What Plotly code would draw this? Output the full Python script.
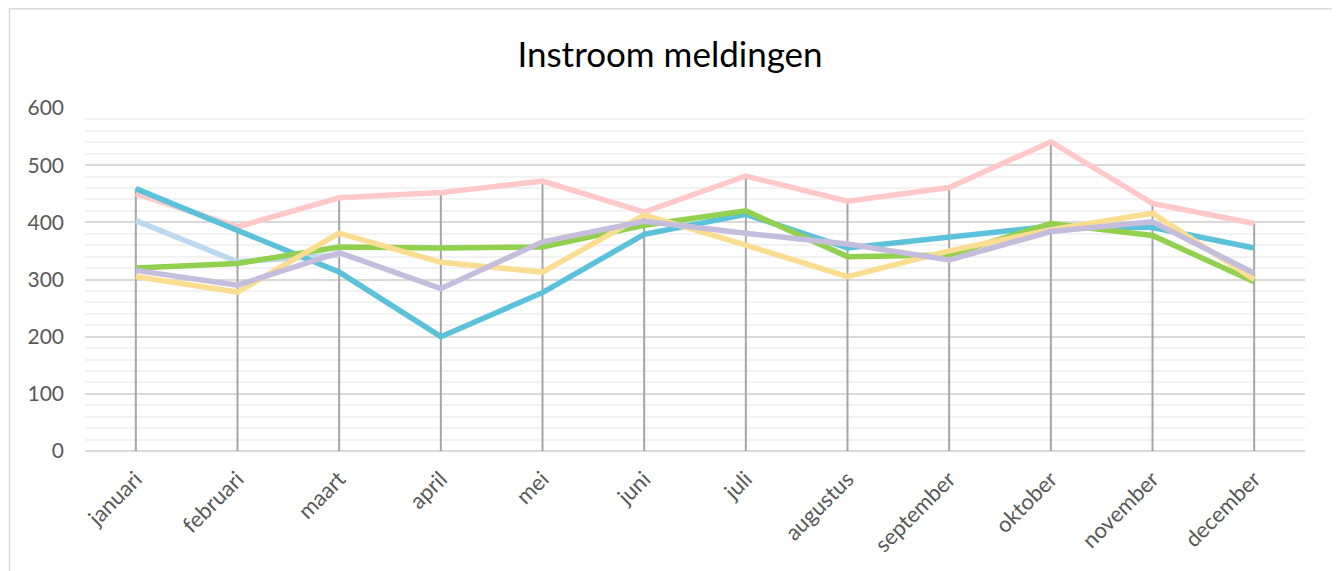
import plotly.graph_objects as go

months = ["januari", "februari", "maart", "april", "mei", "juni", "juli",
          "augustus", "september", "oktober", "november", "december"]

pink = [450, 392, 443, 452, 472, 418, 481, 437, 461, 541, 433, 398]
lightblue = [403, 331, 343, None, None, None, None, None, None, None, None, None]
teal = [459, 386, 313, 200, 277, 379, 414, 355, 375, 393, 391, 355]
green = [320, 328, 357, 355, 357, 395, 420, 340, 343, 398, 377, 296]
yellow = [305, 278, 381, 330, 313, 413, 360, 305, 350, 387, 416, 300]
purple = [316, 290, 347, 284, 366, 402, 381, 362, 334, 384, 401, 311]

series = [
    ("Reeks 1", pink, "#FFC9C9"),
    ("Reeks 2", lightblue, "#BDD9EE"),
    ("Reeks 3", teal, "#5BC2DA"),
    ("Reeks 4", green, "#92D050"),
    ("Reeks 5", yellow, "#F9DE92"),
    ("Reeks 6", purple, "#C4BDDC"),
]

fig = go.Figure()

# drop lines: from axis to highest point per category
drop_x, drop_y = [], []
for i, m in enumerate(months):
    vals = [s[1][i] for s in series if s[1][i] is not None]
    drop_x += [m, m, None]
    drop_y += [0, max(vals), None]
fig.add_trace(go.Scatter(x=drop_x, y=drop_y, mode="lines",
                         line=dict(color="#A6A6A6", width=2),
                         hoverinfo="skip", showlegend=False))

for name, vals, col in series:
    fig.add_trace(go.Scatter(x=months, y=vals, name=name, mode="lines",
                             line=dict(color=col, width=5.5),
                             connectgaps=False))

# page body has an 8px offset, so figure is sized accordingly
W, H = 1332, 563
L, R, T, B = 77, 35, 100, 120
pw, ph = W - L - R, H - T - B

fig.update_layout(
    width=W, height=H,
    margin=dict(l=L, r=R, t=T, b=B),
    paper_bgcolor="white", plot_bgcolor="white",
    showlegend=False,
    font=dict(family="Lato, Open Sans, sans-serif", color="#595959", size=21),
    title=dict(text="Instroom meldingen", x=(670 - 8) / W, xanchor="center",
               y=1 - 47 / H, yanchor="middle",
               font=dict(family="Lato, Open Sans, sans-serif", size=35, color="#000000")),
    xaxis=dict(type="category", range=[-0.5, 11.5], tickangle=-45,
               showgrid=False, showline=False, zeroline=False, ticks="",
               ticklabelstandoff=10,
               tickfont=dict(size=22, color="#595959")),
    yaxis=dict(range=[0, 600], dtick=100, showgrid=True, gridcolor="#D9D9D9",
               gridwidth=1.5, zeroline=True, zerolinecolor="#D9D9D9",
               zerolinewidth=1.5, showline=False, ticks="",
               ticklabelstandoff=20,
               tickfont=dict(size=21, color="#595959"),
               minor=dict(dtick=20, showgrid=True, gridcolor="#F2F2F2", gridwidth=1.5)),
    shapes=[dict(type="rect", xref="paper", yref="paper",
                 x0=(1.5 - L) / pw, x1=(1325 - L) / pw,
                 y0=-1.0, y1=(H - B - 0.75) / ph,
                 line=dict(color="#D9D9D9", width=1.5), fillcolor="rgba(0,0,0,0)",
                 layer="below")],
)

fig.write_html("out.html")
